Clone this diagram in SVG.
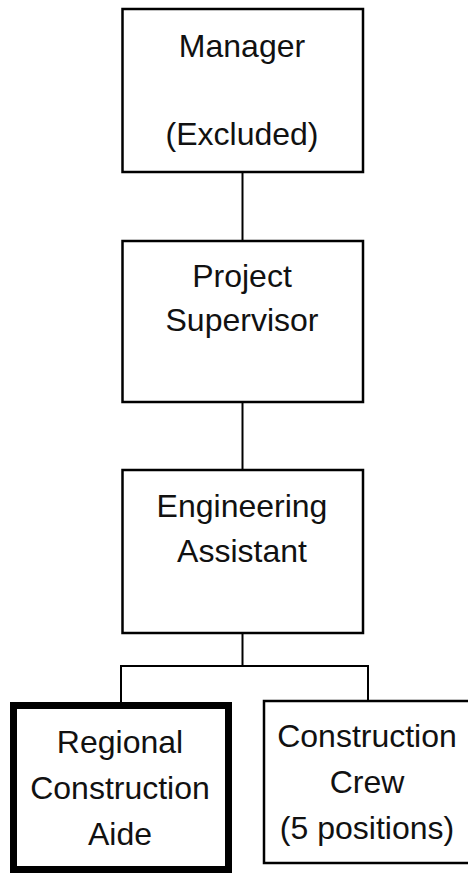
<svg xmlns="http://www.w3.org/2000/svg" width="468" height="875" viewBox="0 0 468 875">
<style>
.box{fill:#fff;stroke:#000;stroke-width:2.5}
.thick{fill:#fff;stroke:#000;stroke-width:7}
.t{font-family:"Liberation Sans",Arial,sans-serif;font-size:32px;fill:#111;text-anchor:middle}
.c{stroke:#000;stroke-width:2;fill:none}
</style>
<rect width="468" height="875" fill="#fff"/>
<g id="connectors">
<line class="c" x1="242.5" y1="172" x2="242.5" y2="241"/>
<line class="c" x1="242.5" y1="402" x2="242.5" y2="470"/>
<line class="c" x1="242.5" y1="633" x2="242.5" y2="666"/>
<polyline class="c" points="121,703 121,666 368,666 368,701"/>
</g>
<g id="manager">
<rect class="box" x="122.5" y="9" width="240.5" height="163"/>
<text class="t" x="242" y="57">Manager</text>
<text class="t" x="242" y="145">(Excluded)</text>
</g>
<g id="supervisor">
<rect class="box" x="122.5" y="241" width="240.5" height="161"/>
<text class="t" x="242" y="287">Project</text>
<text class="t" x="242" y="331">Supervisor</text>
</g>
<g id="assistant">
<rect class="box" x="122.5" y="470" width="240.5" height="163"/>
<text class="t" x="242" y="517">Engineering</text>
<text class="t" x="242" y="562">Assistant</text>
</g>
<g id="aide">
<rect class="thick" x="13.5" y="705.5" width="215" height="164"/>
<text class="t" x="120" y="753">Regional</text>
<text class="t" x="120" y="799">Construction</text>
<text class="t" x="120" y="845">Aide</text>
</g>
<g id="crew">
<rect class="box" x="264" y="701" width="210" height="162"/>
<text class="t" x="367" y="747">Construction</text>
<text class="t" x="367" y="793">Crew</text>
<text class="t" x="367" y="839">(5 positions)</text>
</g>
</svg>
